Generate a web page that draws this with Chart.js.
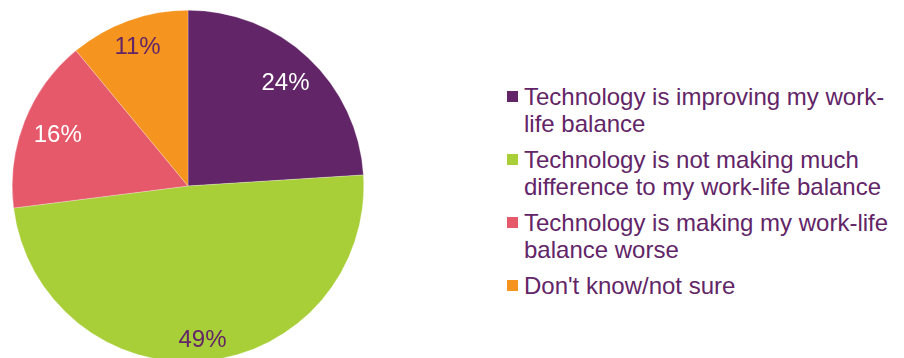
<!DOCTYPE html>
<html lang="en">
<head>
  <meta charset="UTF-8" />
  <title>Technology and work-life balance</title>
  <style>
    html, body {
      margin: 0;
      padding: 0;
      width: 904px;
      height: 358px;
      overflow: hidden;
      background: #fff;
      font-family: "Liberation Sans", Arial, sans-serif;
    }
    #pieWrap {
      position: absolute;
      left: 12px;
      top: 10px;
      width: 352px;
      height: 352px;
    }
    #legend {
      position: absolute;
      left: 506px;
      top: 83px;
      width: 392px;
      margin: 0;
      padding: 0;
      list-style: none;
    }
    #legend li {
      position: relative;
      padding-left: 18px;
      margin-bottom: 9px;
      font-size: 24px;
      line-height: 27px;
      color: #622567;
    }
    #legend .box {
      position: absolute;
      left: 1px;
      top: 8px;
      width: 11px;
      height: 11px;
    }
  </style>
</head>
<body>
  <div id="pieWrap"><canvas id="pie"></canvas></div>
  <ul id="legend"></ul>

  <script src="https://cdn.jsdelivr.net/npm/chart.js"></script>
  <script>
    const labels = [
      'Technology is improving my work-life balance',
      'Technology is not making much difference to my work-life balance',
      'Technology is making my work-life balance worse',
      "Don't know/not sure"
    ];
    const values = [24, 49, 16, 11];
    const colors = ['#622567', '#a8cf38', '#e5596b', '#f5951f'];
    const labelColors = ['#ffffff', '#622567', '#ffffff', '#622567'];

    // percentage labels inside the slices; the outer edge of each text box
    // sits on a fixed circle, like the original
    const sliceLabels = {
      id: 'sliceLabels',
      afterDatasetsDraw(chart) {
        const ctx = chart.ctx;
        const meta = chart.getDatasetMeta(0);
        ctx.save();
        ctx.font = '24px "Liberation Sans", Arial, sans-serif';
        ctx.textAlign = 'center';
        ctx.textBaseline = 'middle';
        meta.data.forEach((arc, i) => {
          const text = values[i] + '%';
          const mid = (arc.startAngle + arc.endAngle) / 2;
          const c = Math.cos(mid), s = Math.sin(mid);
          const hw = ctx.measureText(text).width / 2, hh = 10;
          const d = arc.outerRadius * 0.945 - hw * Math.abs(c) - hh * Math.abs(s);
          ctx.fillStyle = labelColors[i];
          ctx.fillText(text, arc.x + c * d, arc.y + s * d + 1);
        });
        ctx.restore();
      }
    };

    new Chart(document.getElementById('pie'), {
      type: 'pie',
      data: {
        labels: labels,
        datasets: [{
          data: values,
          backgroundColor: colors,
          borderColor: 'rgba(255,255,255,0.5)',
          borderWidth: 0.5
        }]
      },
      options: {
        responsive: true,
        maintainAspectRatio: false,
        animation: false,
        layout: { padding: 0 },
        plugins: {
          legend: { display: false },
          tooltip: { enabled: false }
        }
      },
      plugins: [sliceLabels]
    });

    // legend on the right, built from the same arrays
    const legendEl = document.getElementById('legend');
    labels.forEach((text, i) => {
      const li = document.createElement('li');
      const box = document.createElement('span');
      box.className = 'box';
      box.style.background = colors[i];
      li.appendChild(box);
      li.appendChild(document.createTextNode(text));
      legendEl.appendChild(li);
    });
  </script>
</body>
</html>
